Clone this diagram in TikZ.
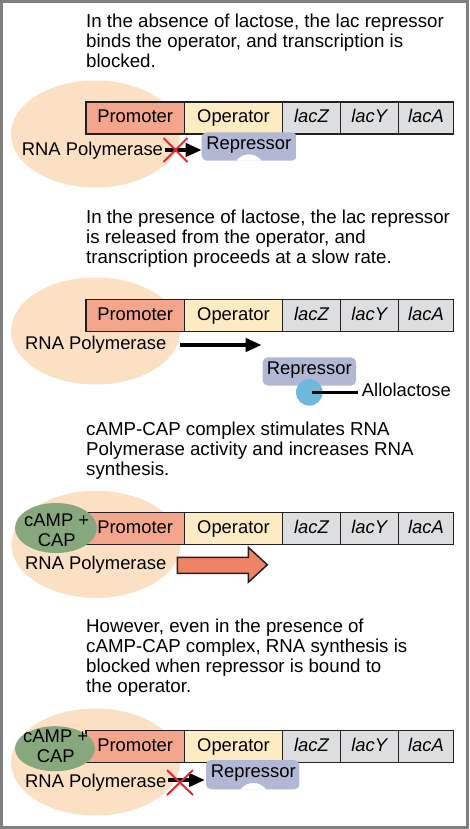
\documentclass[tikz,border=0pt]{standalone}
\usepackage{fontspec}
\setmainfont{Liberation Sans}
\usetikzlibrary{shapes.geometric,arrows.meta}
\definecolor{peach}{HTML}{FCE0C4}
\definecolor{promcol}{HTML}{F3A68C}
\definecolor{opcol}{HTML}{FDEBC4}
\definecolor{genecol}{HTML}{DDDEE0}
\definecolor{repcol}{HTML}{B2B8D3}
\definecolor{campgreen}{HTML}{87A87D}
\definecolor{allocol}{HTML}{6DB8DB}
\definecolor{arrowred}{HTML}{F08365}
\definecolor{xred}{HTML}{E3292E}
\definecolor{stripline}{HTML}{231F20}
\definecolor{bordercol}{HTML}{7F7F7F}
\newcommand\bodyfont{\fontsize{18.7pt}{20.2pt}\selectfont}
\newcommand\labfont{\fontsize{18.4pt}{19.7pt}\selectfont}
\newcommand\dnastrip[2]{%
  \node[gb, fill=promcol, minimum width=98.3pt] (#1pro) at (86,#2) {Promoter};
  \node[gb, fill=opcol, minimum width=98.4pt] (#1op) at (184.3,#2) {Operator};
  \node[gb, fill=genecol, minimum width=57.6pt] (#1z) at (282.7,#2) {\itshape lacZ};
  \node[gb, fill=genecol, minimum width=58pt] (#1y) at (340.3,#2) {\itshape lacY};
  \node[gb, fill=genecol, minimum width=55.4pt] (#1a) at (398.3,#2) {\itshape lacA};
}
\newcommand\repshape[5]{%
  \begin{scope}
    \clip[rounded corners=5pt] (#1,#2) rectangle (#3,#4);
    \fill[repcol, even odd rule] (#1,#2) rectangle (#3,#4) (#5,#4+9.7) circle[radius=16.1pt];
  \end{scope}}
\tikzset{
  gb/.style={draw=stripline, line width=1.1pt, minimum height=32pt, inner sep=0pt, outer sep=0pt,
    text height=13.2pt, text depth=3.8pt, font=\labfont, anchor=north west},
  polell/.style={ellipse, fill=peach, minimum width=169pt, minimum height=107pt, inner sep=0pt},
  campell/.style={ellipse, fill=campgreen, inner sep=0pt},
  para/.style={anchor=north west, align=left, inner sep=0pt, font=\bodyfont},
  lab/.style={inner sep=0pt, font=\labfont},
  blackarrow/.style={line width=4pt, -{Triangle[length=16pt,width=13pt]}},
  redx/.style={draw=xred, line width=2pt},
}
\begin{document}
\begin{tikzpicture}[x=1pt,y=-1pt]
\useasboundingbox (0,0) rectangle (469,829);
\fill[white] (0,0) rectangle (469,829);

% ---------- Panel 1 ----------
\node[para] (txt1) at (86,13.7) {In the absence of lactose, the lac repressor\\binds the operator, and transcription is\\blocked.};
\node[polell] (pol1) at (95.5,134) {};
\dnastrip{p1}{102}
\node[lab, anchor=base west] (pl1) at (21.7,155.3) {RNA Polymerase};
\coordinate (a1s) at (165,150);
\coordinate (a1e) at (201.7,150);
\draw[blackarrow] (a1s) -- (a1e);
\repshape{201.7}{132.3}{296.7}{160.7}{249}
\node[lab, anchor=base] (rep1) at (248.8,150) {Repressor};
\draw[redx] (163.5,138) -- (187.5,162) (163.5,162) -- (187.5,138);

% ---------- Panel 2 ----------
\node[para] (txt2) at (86,209.7) {In the presence of lactose, the lac repressor\\is released from the operator, and\\transcription proceeds at a slow rate.};
\node[polell] (pol2) at (95.5,331) {};
\dnastrip{p2}{299.3}
\node[lab, anchor=base west] (pl2) at (25,349.8) {RNA Polymerase};
\coordinate (a2s) at (180,345);
\coordinate (a2e) at (261.7,345);
\draw[blackarrow] (a2s) -- (a2e);
\fill[repcol, rounded corners=5pt] (262.7,357.3) rectangle (356,385.5);
\node[lab, anchor=base] (rep2) at (309.3,374.5) {Repressor};
\node[circle, fill=allocol, minimum size=26.6pt, inner sep=0pt] (allo) at (309.3,392.3) {};
\node[lab, anchor=base west] (allot) at (361.7,396.7) {Allolactose};
\draw[line width=3.3pt, shorten >=3.4pt] ([xshift=2.4pt]allo.center) -- (allo.center -| allot.west);

% ---------- Panel 3 ----------
\node[para] (txt3) at (86,421.7) {cAMP-CAP complex stimulates RNA\\Polymerase activity and increases RNA\\synthesis.};
\node[polell] (pol3) at (96,544.3) {};
\dnastrip{p3}{512.3}
\node[campell, minimum width=82pt, minimum height=50pt] (cap3) at (56,528) {};
\node[lab, align=center, anchor=north] (capt3) at (56.7,513.5) {cAMP +\\CAP};
\node[lab, anchor=base west] (pl3) at (25,569.5) {RNA Polymerase};
\draw[fill=arrowred, draw=stripline, line width=1.5pt, line join=miter]
  (177.3,557.3) -- (248.3,557.3) -- (248.3,547.3) -- (267.3,564.8) -- (248.3,582.3) -- (248.3,573.3) -- (177.3,573.3) -- cycle;

% ---------- Panel 4 ----------
\node[para] (txt4) at (86,618.4) {However, even in the presence of\\cAMP-CAP complex, RNA synthesis is\\blocked when repressor is bound to\\the operator.};
\node[polell] (pol4) at (95.5,762) {};
\dnastrip{p4}{730.7}
\node[campell, minimum width=80pt, minimum height=45pt] (cap4) at (55,748.7) {};
\node[lab, align=center, anchor=north] (capt4) at (55.7,730.1) {cAMP +\\CAP};
\node[lab, anchor=base west] (pl4) at (25,787.5) {RNA Polymerase};
\coordinate (a4s) at (168,780);
\coordinate (a4e) at (205,780);
\draw[blackarrow] (a4s) -- (a4e);
\repshape{206}{760}{299.3}{789.3}{253.3}
\node[lab, anchor=base] (rep4) at (253.2,777.3) {Repressor};
\draw[redx] (167,770) -- (193,795) (167,795) -- (193,770);

% ---------- border ----------
\draw[bordercol, line width=3pt] (1.5,1.5) rectangle (467.5,827.5);
\end{tikzpicture}
\end{document}
